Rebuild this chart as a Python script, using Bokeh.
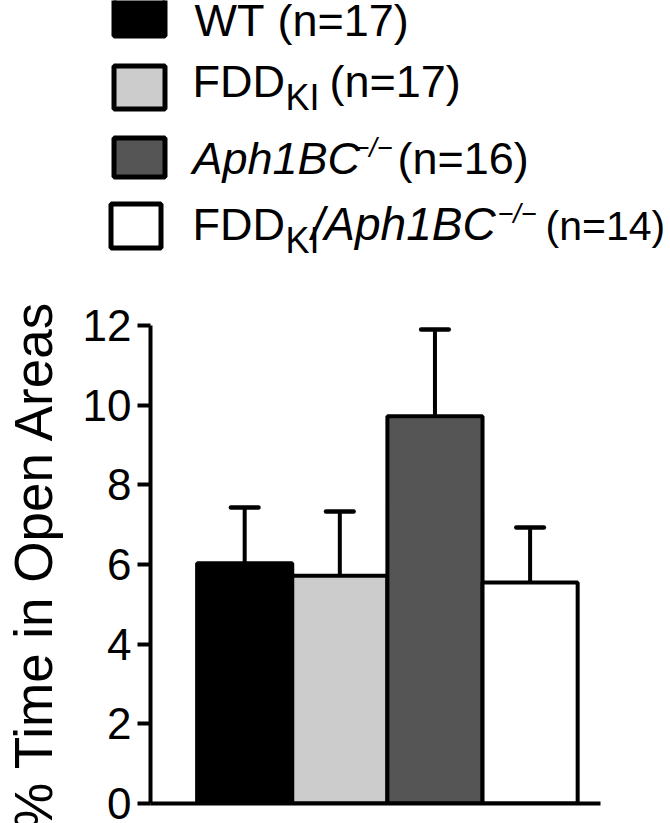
import numpy as np
from bokeh.plotting import figure
from bokeh.models import Range1d, LinearAxis, FixedTicker, ColumnDataSource
from bokeh.layouts import column
from bokeh.embed import file_html
from bokeh.resources import INLINE
from bokeh.core.properties import value

# ---------------- data ----------------
groups = ["WT", "FDD_KI", "Aph1BC-/-", "FDD_KI/Aph1BC-/-"]
n_mice = [17, 17, 16, 14]
means = [6.03, 5.72, 9.72, 5.55]
sems = [1.40, 1.61, 2.18, 1.38]
colors = ["#000000", "#cccccc", "#555555", "#ffffff"]
y_ticks = [0, 2, 4, 6, 8, 10, 12]
y_label = "% Time in Open Areas"

# rich legend labels: (text, kind) kind: n=normal, sub, i=italic, sup
legend_parts = [
    [("WT", "n")],
    [("FDD", "n"), ("KI", "sub")],
    [("Aph1BC", "i"), ("\u2212/\u2212", "sup")],
    [("FDD", "n"), ("KI", "sub"), ("/Aph1BC", "i"), ("\u2212/\u2212", "sup")],
]

FONT = "Liberation Sans"
W = 670
LEG_H = 290
MAIN_H = 533

# ---------------- legend (layout in page pixels) ----------------
sq_x = [139, 139, 139, 135.5]
sq_y = [16, 87, 157, 225.5]
sq_w = [51, 51, 51, 50]
sq_h = [39, 43, 39, 44]
baselines = [39, 100, 177, 243]
piece_x = [[194], [192, 285], [192, 353], [192, 285, 311, 497]]
count_x = [277, 329, 397, 545]
count_size = [45, 45, 45, 41]
kind_style = {"n": (45, "normal", 0), "sub": (36, "normal", 12),
              "i": (45, "italic", 0), "sup": (27, "italic", -18)}
BASELINE_FIX = 0.42  # em shift so glyph baselines land where measured

lg = figure(width=W, height=LEG_H, x_range=Range1d(0, W), y_range=Range1d(LEG_H, 0),
            x_axis_type=None, y_axis_type=None, output_backend="svg",
            toolbar_location=None, min_border=0, outline_line_color=None,
            frame_align=False)
lg.rect(x=sq_x, y=sq_y, width=sq_w, height=sq_h, fill_color=colors,
        line_color="black", line_width=5)

tx, ty, tt, ts, tst = [], [], [], [], []
for i, parts in enumerate(legend_parts):
    for (txt, kind), px in zip(parts, piece_x[i]):
        size, style, dy = kind_style[kind]
        if i == 3 and kind == "i":
            size = 46
        tx.append(px); ty.append(baselines[i] + dy - BASELINE_FIX * size); tt.append(txt)
        ts.append("%dpx" % size); tst.append(style)
    size = count_size[i]
    tx.append(count_x[i]); ty.append(baselines[i] - BASELINE_FIX * size)
    tt.append("(n=%d)" % n_mice[i])
    ts.append("%dpx" % size); tst.append("normal")
tsrc = ColumnDataSource(dict(x=tx, y=ty, text=tt, size=ts, style=tst))
lg.text(x="x", y="y", text="text", source=tsrc, text_font=value(FONT),
        text_font_size="size", text_font_style="style", text_color="black",
        text_align="left", text_baseline="alphabetic")

# ---------------- main bar chart ----------------
x = np.arange(1, len(means) + 1)
tops = np.array(means) + np.array(sems)
src = ColumnDataSource(dict(x=x, mean=means, top=tops, color=colors,
                            cl=x - 0.145, cr=x + 0.145))

p = figure(width=W, height=MAIN_H, x_range=Range1d(0.01, 4.74), y_range=Range1d(0, 12),
           x_axis_type=None, y_axis_type=None, output_backend="svg",
           toolbar_location=None, min_border_left=145, min_border_right=70,
           min_border_top=35, min_border_bottom=20, outline_line_color=None,
           frame_align=False)

p.segment(x0="x", y0="mean", x1="x", y1="top", line_width=4, line_color="black", source=src)
p.segment(x0="cl", y0="top", x1="cr", y1="top", line_width=4.5, line_cap="round",
          line_color="black", source=src)
p.vbar(x="x", top="mean", bottom=0, width=1.0, fill_color="color",
       line_color="black", line_width=4, source=src)

yax = LinearAxis(ticker=FixedTicker(ticks=y_ticks), axis_label=y_label)
yax.axis_line_width = 4
yax.axis_line_color = "black"
yax.major_tick_line_width = 4
yax.major_tick_out = 13
yax.major_tick_in = 0
yax.minor_tick_line_color = None
yax.major_label_text_font = FONT
yax.major_label_text_font_size = "44px"
yax.major_label_text_color = "black"
yax.major_label_standoff = 6
yax.axis_label_text_font = FONT
yax.axis_label_text_font_size = "53px"
yax.axis_label_text_font_style = "normal"
yax.axis_label_text_color = "black"
yax.axis_label_standoff = 17
p.add_layout(yax, "left")

xax = LinearAxis(ticker=FixedTicker(ticks=[]))
xax.axis_line_width = 4
xax.axis_line_color = "black"
xax.major_tick_line_color = None
xax.major_tick_out = 0
xax.minor_tick_line_color = None
xax.major_label_text_font_size = "0px"
xax.major_label_standoff = 0
p.add_layout(xax, "below")

layout = column(lg, p, spacing=0)
open("out.html", "w").write(file_html(layout, INLINE))
